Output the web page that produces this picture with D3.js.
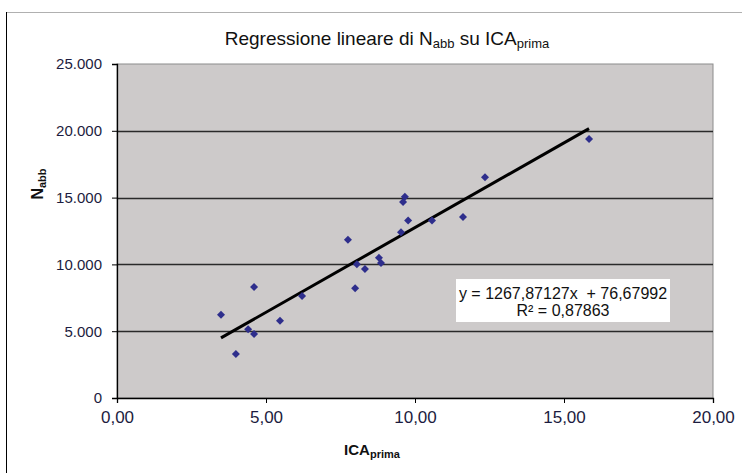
<!DOCTYPE html>
<html><head><meta charset="utf-8">
<script src="https://cdn.jsdelivr.net/npm/d3@7"></script>
<style>
body{margin:0;background:#fff;}
text{font-family:"Liberation Sans",Arial,sans-serif;}
</style></head>
<body><svg id="c" width="742" height="473"></svg>
<script>
const icaPrima = [3.49,3.99,4.40,4.60,4.60,5.47,6.21,7.75,7.99,8.05,8.32,8.79,8.86,9.53,9.60,9.66,9.77,10.57,11.61,12.35,15.84];
const nAbb = [6230,3290,5140,8310,4790,5780,7640,11840,8210,10010,9650,10490,10110,12400,14670,15060,13280,13290,13550,16520,19390];
const slope = 1267.87127, intercept = 76.67992, r2 = "0,87863";
const xTicks = [0,5,10,15,20];
const yTicks = [0,5000,10000,15000,20000,25000];

const svg = d3.select("#c");
const L=117, R=713, T=64, B=398;
const x = d3.scaleLinear().domain([0,20]).range([L,R]);
const y = d3.scaleLinear().domain([0,25000]).range([B,T]);

// outer chart border
svg.append("line").attr("x1",6).attr("x2",742).attr("y1",12.5).attr("y2",12.5).attr("stroke","#b0b0b0");
svg.append("line").attr("x1",6.5).attr("x2",6.5).attr("y1",12).attr("y2",473).attr("stroke","#000");

// plot area
svg.append("rect").attr("x",L).attr("y",T).attr("width",R-L).attr("height",B-T).attr("fill","#cdcaca").attr("stroke","#8c8c8c");

// gridlines
svg.append("g").selectAll("line").data(yTicks.filter(d=>d>0 && d<25000)).join("line")
  .attr("x1",L).attr("x2",R).attr("y1",d=>Math.round(y(d))+0.5).attr("y2",d=>Math.round(y(d))+0.5)
  .attr("stroke","#2a2a2a").attr("stroke-width",1.3);

const fmtY = d => d===0 ? "0" : d3.format(",")(d).replace(/,/g,".");
const fmtX = d => d.toFixed(2).replace(".",",");

const ya = svg.append("g").attr("transform",`translate(${L},0)`)
  .call(d3.axisLeft(y).tickValues(yTicks).tickFormat(fmtY).tickSize(5).tickPadding(10));
const xa = svg.append("g").attr("transform",`translate(0,${B})`)
  .call(d3.axisBottom(x).tickValues(xTicks).tickFormat(fmtX).tickSize(5).tickPadding(8));
[ya,xa].forEach(a=>{a.select(".domain").attr("stroke","#000").attr("stroke-width",1.3);
  a.selectAll(".tick line").attr("stroke","#000");
  a.selectAll(".tick text").attr("fill","#1c1c40").attr("font-size",15);});
xa.selectAll(".tick text").attr("font-family","'Liberation Sans Narrow','Arial Narrow',sans-serif").attr("font-size",17);

// regression line
const xMin=d3.min(icaPrima), xMax=d3.max(icaPrima);
svg.append("line").attr("x1",x(xMin)).attr("y1",y(slope*xMin+intercept))
  .attr("x2",x(xMax)).attr("y2",y(slope*xMax+intercept))
  .attr("stroke","#000").attr("stroke-width",3);

// points
const sym = d3.symbol().type(d3.symbolSquare).size(32);
svg.append("g").selectAll("path").data(icaPrima.map((v,i)=>[v,nAbb[i]])).join("path")
  .attr("d",sym).attr("fill","#2e2e8c")
  .attr("transform",d=>`translate(${x(d[0])},${y(d[1])}) rotate(45)`);

// equation box
svg.append("rect").attr("x",456).attr("y",279).attr("width",214).attr("height",43).attr("fill","#fff");
svg.append("text").attr("x",563).attr("y",299).attr("text-anchor","middle").attr("font-size",16).attr("fill","#111")
  .attr("xml:space","preserve").text("y = " + "1267,87127" + "x  + " + "76,67992");
svg.append("text").attr("x",563).attr("y",316).attr("text-anchor","middle").attr("font-size",16).attr("fill","#111")
  .text("R² = " + r2);

// title
const t = svg.append("text").attr("x",387).attr("y",45).attr("text-anchor","middle").attr("font-size",19).attr("fill","#111");
t.append("tspan").text("Regressione lineare di N");
t.append("tspan").attr("font-size",13).attr("dy",3).text("abb");
t.append("tspan").attr("dy",-3).text(" su ICA");
t.append("tspan").attr("font-size",13).attr("dy",3).text("prima");

// x title
const xt = svg.append("text").attr("x",372).attr("y",455).attr("text-anchor","middle").attr("font-size",15).attr("font-weight","bold").attr("fill","#111");
xt.append("tspan").text("ICA");
xt.append("tspan").attr("font-size",11).attr("dy",3).text("prima");

// y title
const yt = svg.append("text").attr("transform","translate(43,184) rotate(-90)").attr("text-anchor","middle").attr("font-size",16).attr("font-weight","bold").attr("fill","#111");
yt.append("tspan").text("N");
yt.append("tspan").attr("font-size",11).attr("dy",3).text("abb");
</script></body></html>
